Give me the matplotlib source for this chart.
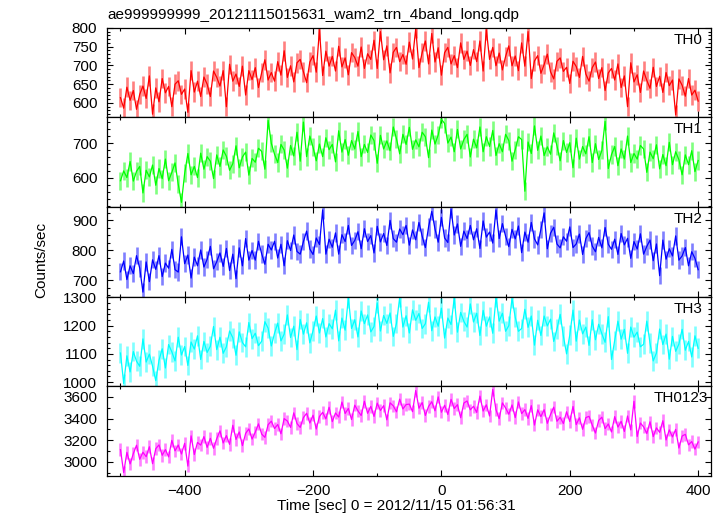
import numpy as np
import matplotlib
matplotlib.use("Agg")
import matplotlib.pyplot as plt
from matplotlib.ticker import MultipleLocator

# ---------------- data (5-s bins, t = -500 ... 400 s) ----------------
TIME = np.arange(-500, 401, 5)

TH0 = [614, 586, 642, 607, 633, 583, 623, 645, 612, 672,
       570, 640, 603, 665, 627, 644, 590, 650, 659, 623,
       637, 575, 686, 629, 658, 617, 669, 650, 617, 685,
       668, 645, 686, 590, 703, 658, 677, 644, 698, 621,
       686, 662, 694, 641, 681, 715, 661, 681, 658, 710,
       674, 739, 668, 699, 656, 707, 716, 683, 654, 709,
       726, 682, 795, 673, 738, 698, 724, 685, 751, 696,
       720, 675, 734, 721, 698, 749, 692, 731, 716, 767,
       692, 790, 715, 752, 680, 735, 748, 710, 729, 703,
       762, 717, 798, 694, 734, 765, 704, 785, 709, 747,
       674, 734, 748, 704, 726, 694, 760, 716, 738, 700,
       742, 710, 765, 685, 795, 716, 748, 699, 733, 688,
       724, 752, 699, 725, 686, 760, 698, 790, 665, 712,
       726, 679, 702, 730, 683, 664, 711, 720, 684, 695,
       652, 711, 697, 668, 724, 677, 658, 694, 709, 665,
       694, 633, 680, 692, 661, 704, 641, 672, 590, 707,
       656, 675, 628, 685, 660, 639, 695, 644, 671, 628,
       681, 646, 661, 568, 664, 647, 618, 665, 621, 634,
       605]

TH1 = [592, 620, 601, 647, 591, 619, 633, 557, 622, 603,
       637, 579, 627, 598, 654, 592, 616, 643, 582, 530,
       613, 670, 609, 633, 601, 671, 625, 661, 648, 598,
       666, 633, 680, 662, 622, 641, 692, 629, 660, 674,
       608, 656, 645, 685, 676, 625, 765, 699, 668, 644,
       696, 680, 628, 693, 663, 731, 648, 760, 661, 720,
       688, 649, 697, 661, 715, 681, 696, 646, 735, 674,
       710, 665, 707, 683, 733, 661, 696, 673, 723, 707,
       642, 722, 683, 706, 678, 746, 712, 669, 725, 696,
       745, 682, 709, 689, 731, 718, 658, 737, 697, 723,
       768, 756, 700, 717, 675, 739, 683, 710, 725, 660,
       711, 686, 746, 675, 718, 690, 736, 664, 698, 675,
       725, 707, 648, 681, 718, 710, 562, 703, 670, 749,
       679, 720, 664, 689, 668, 729, 692, 649, 707, 673,
       701, 629, 714, 654, 690, 669, 718, 644, 698, 653,
       679, 762, 627, 667, 690, 635, 683, 654, 720, 644,
       670, 654, 693, 683, 616, 674, 655, 695, 626, 667,
       635, 702, 638, 675, 652, 609, 666, 638, 678, 618,
       650]

TH2 = [728, 764, 702, 748, 722, 782, 740, 660, 761, 695,
       768, 736, 782, 712, 757, 740, 803, 735, 727, 845,
       755, 784, 707, 777, 748, 801, 744, 770, 813, 738,
       762, 791, 746, 806, 732, 787, 705, 808, 748, 839,
       767, 799, 767, 830, 788, 753, 820, 801, 830, 774,
       820, 748, 832, 799, 851, 796, 787, 829, 864, 804,
       786, 841, 819, 935, 787, 837, 810, 858, 787, 852,
       829, 883, 816, 833, 862, 805, 872, 829, 849, 791,
       880, 828, 856, 816, 900, 839, 827, 871, 852, 883,
       817, 868, 835, 893, 847, 809, 878, 930, 871, 827,
       910, 841, 826, 938, 851, 888, 813, 864, 839, 883,
       835, 872, 806, 898, 844, 861, 824, 935, 839, 889,
       847, 812, 870, 838, 881, 792, 861, 827, 893, 838,
       818, 870, 925, 805, 857, 877, 821, 808, 845, 830,
       878, 809, 821, 854, 786, 839, 859, 814, 795, 843,
       808, 876, 820, 803, 837, 786, 856, 818, 840, 773,
       829, 804, 855, 787, 813, 834, 765, 821, 715, 834,
       770, 805, 781, 848, 767, 781, 809, 748, 795, 773,
       735]

TH3 = [1103, 995, 1093, 1036, 1108, 1074, 1056, 1153, 1071, 1099,
       1056, 1005, 1077, 1118, 1050, 1133, 1107, 1075, 1159, 1096,
       1126, 1059, 1142, 1117, 1164, 1080, 1144, 1105, 1127, 1197,
       1115, 1159, 1102, 1125, 1181, 1157, 1095, 1178, 1140, 1125,
       1211, 1154, 1173, 1129, 1145, 1214, 1191, 1128, 1173, 1209,
       1146, 1170, 1238, 1158, 1198, 1115, 1222, 1170, 1210, 1139,
       1182, 1234, 1174, 1225, 1160, 1207, 1189, 1255, 1146, 1227,
       1184, 1298, 1190, 1221, 1160, 1252, 1207, 1238, 1178, 1197,
       1281, 1181, 1236, 1208, 1245, 1162, 1208, 1300, 1195, 1235,
       1174, 1256, 1219, 1243, 1190, 1207, 1283, 1182, 1231, 1198,
       1262, 1156, 1227, 1204, 1298, 1177, 1247, 1215, 1195, 1277,
       1213, 1244, 1165, 1254, 1198, 1231, 1173, 1300, 1216, 1244,
       1180, 1200, 1296, 1230, 1180, 1190, 1258, 1194, 1234, 1131,
       1219, 1165, 1234, 1199, 1223, 1144, 1188, 1240, 1163, 1100,
       1167, 1255, 1145, 1220, 1171, 1195, 1130, 1221, 1150, 1205,
       1171, 1141, 1232, 1080, 1147, 1216, 1152, 1187, 1102, 1195,
       1159, 1177, 1125, 1134, 1216, 1138, 1075, 1103, 1188, 1133,
       1170, 1081, 1162, 1109, 1135, 1187, 1113, 1144, 1089, 1164,
       1120]

TH0123 = [3112, 2900, 3087, 2980, 3075, 3153, 3023, 3088, 3047, 3139,
          2982, 3121, 3156, 3060, 3113, 3045, 3198, 3101, 3155, 3072,
          3171, 2960, 3240, 3067, 3179, 3154, 3233, 3133, 3217, 3125,
          3214, 3286, 3174, 3242, 3161, 3338, 3207, 3276, 3150, 3263,
          3304, 3210, 3274, 3351, 3256, 3226, 3343, 3376, 3308, 3345,
          3259, 3400, 3377, 3318, 3453, 3354, 3318, 3409, 3449, 3359,
          3431, 3303, 3419, 3458, 3397, 3505, 3372, 3452, 3414, 3553,
          3447, 3494, 3391, 3524, 3471, 3428, 3560, 3449, 3513, 3420,
          3543, 3475, 3520, 3388, 3546, 3518, 3463, 3580, 3489, 3530,
          3534, 3464, 3660, 3496, 3548, 3429, 3513, 3556, 3472, 3601,
          3459, 3523, 3438, 3578, 3493, 3529, 3408, 3544, 3563, 3481,
          3514, 3457, 3608, 3470, 3527, 3424, 3670, 3482, 3399, 3545,
          3498, 3440, 3526, 3409, 3554, 3446, 3483, 3402, 3520, 3340,
          3481, 3418, 3482, 3356, 3438, 3506, 3375, 3412, 3354, 3463,
          3373, 3512, 3344, 3407, 3301, 3409, 3421, 3339, 3266, 3383,
          3413, 3307, 3350, 3276, 3418, 3321, 3374, 3281, 3424, 3295,
          3560, 3234, 3359, 3323, 3262, 3370, 3233, 3314, 3272, 3380,
          3202, 3295, 3230, 3300, 3127, 3238, 3254, 3157, 3187, 3117,
          3183]

BANDS = ["TH0", "TH1", "TH2", "TH3", "TH0123"]
SERIES = [TH0, TH1, TH2, TH3, TH0123]
ERRS = [26, 26, 29, 35, 58]          # typical 1-sigma error per bin
YLIMS = [(562, 801), (517, 774), (645, 945), (985, 1303), (2868, 3699)]
YMAJ = [50, 100, 100, 100, 200]
YMIN = [10, 20, 25, 20, 100]
COLORS = ["#ff0000", "#00ff00", "#0000ff", "#00ffff", "#ff00ff"]
TITLE = "ae999999999_20121115015631_wam2_trn_4band_long.qdp"
XLABEL = "Time [sec] 0 = 2012/11/15 01:56:31"
YLABEL = "Counts/sec"

# ---------------- figure ----------------
plt.rcParams["font.family"] = ["Liberation Sans", "DejaVu Sans"]
W, H = 723, 516
fig = plt.figure(figsize=(W / 100, H / 100), dpi=100)
gs = fig.add_gridspec(5, 1, left=107 / W, right=711 / W,
                      top=1 - 27.5 / H, bottom=1 - 476 / H, hspace=0)

label_x = [703, 703, 703, 703, 708]
for k in range(5):
    ax = fig.add_subplot(gs[k, 0])
    y = np.asarray(SERIES[k], dtype=float)
    ax.errorbar(TIME, y, yerr=ERRS[k], fmt="none", ecolor=COLORS[k],
                elinewidth=1.9, alpha=0.5, capsize=0)
    ax.plot(TIME, y, color=COLORS[k], lw=0.9)
    ax.set_xlim(-521, 420)
    ax.set_ylim(*YLIMS[k])
    ax.xaxis.set_major_locator(MultipleLocator(200))
    ax.xaxis.set_minor_locator(MultipleLocator(100))
    ax.yaxis.set_major_locator(MultipleLocator(YMAJ[k]))
    ax.yaxis.set_minor_locator(MultipleLocator(YMIN[k]))
    ax.tick_params(which="both", direction="in", top=True, right=True,
                   labelsize=11, width=0.8, colors="black")
    ax.tick_params(which="major", length=4.3)
    ax.tick_params(which="minor", length=2.4)
    ax.tick_params(axis="y", pad=7)
    ax.tick_params(axis="x", pad=6)
    for sp in ax.spines.values():
        sp.set_linewidth(0.9)
        sp.set_color("black")
    if k < 4:
        ax.tick_params(axis="x", labelbottom=False)
    ax.text((label_x[k] - 107) / (711 - 107), 1 - 16 / 89.7, BANDS[k],
            transform=ax.transAxes, ha="right", va="baseline", fontsize=11)

fig.text(107 / W, 1 - 19.5 / H, TITLE, ha="left", va="baseline", fontsize=11)
fig.text(396.5 / W, 1 - 506 / H, XLABEL, ha="center", va="center", fontsize=11)
fig.text(41 / W, 1 - 259.5 / H, YLABEL, ha="center", va="center",
         rotation=90, fontsize=11)

fig.savefig("out.png", dpi=100)
